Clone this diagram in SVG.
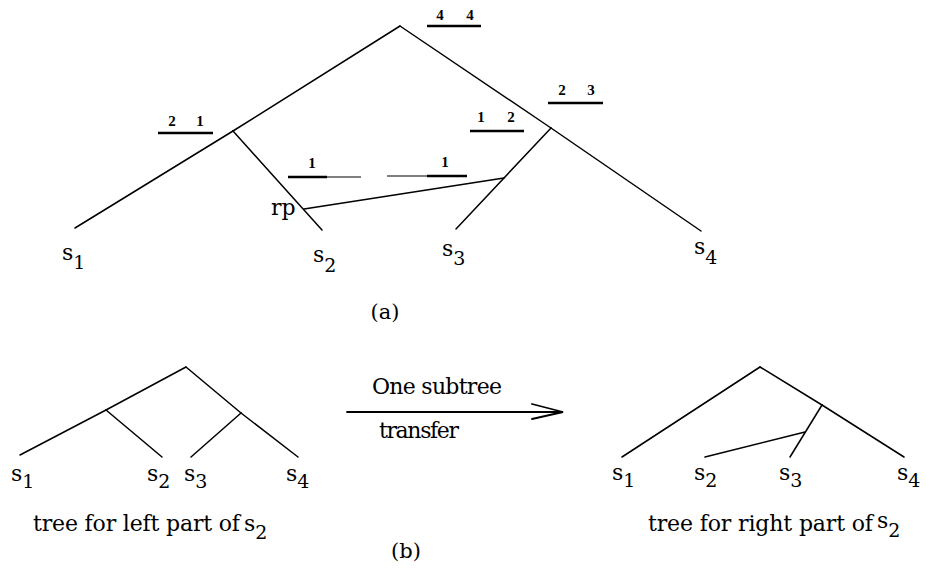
<svg xmlns="http://www.w3.org/2000/svg" width="929" height="571" viewBox="0 0 929 571">
<style>
.e{stroke:#000;stroke-width:1.5;fill:none;stroke-linecap:round}
.u{stroke:#000;stroke-width:2.6}
.ut{stroke:#000;stroke-width:1.2}
.n{font-family:"Liberation Serif",serif;font-weight:bold;font-size:15px;text-anchor:middle;fill:#000}
.t{font-family:"DejaVu Serif","Liberation Serif",serif;font-size:22px;fill:#000}
.sub{font-size:19px}
</style>
<rect width="929" height="571" fill="#fff"/>
<g id="connectors">
<line class="e" x1="400" y1="26" x2="233" y2="131"/>
<line class="e" x1="233" y1="131" x2="75" y2="228"/>
<line class="e" x1="233" y1="131" x2="322" y2="230"/>
<line class="e" x1="400" y1="26" x2="551" y2="128"/>
<line class="e" x1="551" y1="128" x2="701" y2="231"/>
<line class="e" x1="551" y1="128" x2="456" y2="229"/>
<line class="e" x1="304" y1="209" x2="504" y2="178"/>
<line class="e" x1="186" y1="367" x2="106" y2="410"/>
<line class="e" x1="106" y1="410" x2="20" y2="455"/>
<line class="e" x1="106" y1="410" x2="162" y2="457"/>
<line class="e" x1="186" y1="367" x2="241" y2="413"/>
<line class="e" x1="241" y1="413" x2="298" y2="457"/>
<line class="e" x1="241" y1="413" x2="191" y2="457"/>
<line class="e" x1="760" y1="367" x2="622" y2="457"/>
<line class="e" x1="760" y1="367" x2="822" y2="405"/>
<line class="e" x1="822" y1="405" x2="904" y2="457"/>
<line class="e" x1="822" y1="405" x2="790" y2="457"/>
<line class="e" x1="805" y1="432" x2="705" y2="457"/>
<line class="e" x1="347" y1="412" x2="562" y2="412" style="stroke-width:1.8"/>
<polyline class="e" points="532,404 563,412 532,419" style="stroke-width:1.8"/>
</g>
<g id="label-root">
<text class="n" x="440" y="20">4</text><text class="n" x="470" y="20">4</text>
<line class="u" x1="427" y1="26" x2="481" y2="26"/>
</g>
<g id="label-left">
<text class="n" x="172" y="126">2</text><text class="n" x="200" y="126">1</text>
<line class="u" x1="158" y1="133" x2="213" y2="133"/>
</g>
<g id="label-right">
<text class="n" x="562" y="95">2</text><text class="n" x="591" y="95">3</text>
<line class="u" x1="548" y1="103" x2="603" y2="103"/>
</g>
<g id="label-right-inner">
<text class="n" x="481" y="122">1</text><text class="n" x="511" y="122">2</text>
<line class="u" x1="470" y1="131" x2="524" y2="131"/>
</g>
<g id="label-rp-left">
<text class="n" x="312" y="168">1</text>
<line class="u" x1="288" y1="177" x2="327" y2="177"/>
<line class="ut" x1="327" y1="177" x2="361" y2="177"/>
</g>
<g id="label-rp-right">
<text class="n" x="445" y="167">1</text>
<line class="ut" x1="387" y1="176" x2="427" y2="176"/>
<line class="u" x1="427" y1="176" x2="467" y2="176"/>
</g>
<g id="rp"><text class="t" x="271" y="215">rp</text></g>
<g id="a-s1"><text class="t" x="62" y="260">s<tspan class="sub" dy="9">1</tspan></text></g>
<g id="a-s2"><text class="t" x="313" y="262">s<tspan class="sub" dy="10">2</tspan></text></g>
<g id="a-s3"><text class="t" x="442" y="256">s<tspan class="sub" dy="9">3</tspan></text></g>
<g id="a-s4"><text class="t" x="694" y="254">s<tspan class="sub" dy="10">4</tspan></text></g>
<g id="caption-a"><text class="t" x="385" y="319" text-anchor="middle" style="font-size:21px">(a)</text></g>
<g id="bl-s1"><text class="t" x="11" y="481">s<tspan class="sub" dy="7">1</tspan></text></g>
<g id="bl-s2"><text class="t" x="147" y="481">s<tspan class="sub" dy="7">2</tspan></text></g>
<g id="bl-s3"><text class="t" x="184" y="481">s<tspan class="sub" dy="7">3</tspan></text></g>
<g id="bl-s4"><text class="t" x="286" y="481">s<tspan class="sub" dy="7">4</tspan></text></g>
<g id="br-s1"><text class="t" x="612" y="480">s<tspan class="sub" dy="7">1</tspan></text></g>
<g id="br-s2"><text class="t" x="694" y="480">s<tspan class="sub" dy="7">2</tspan></text></g>
<g id="br-s3"><text class="t" x="779" y="480">s<tspan class="sub" dy="7">3</tspan></text></g>
<g id="br-s4"><text class="t" x="897" y="480">s<tspan class="sub" dy="7">4</tspan></text></g>
<g id="arrow-label">
<text class="t" x="372" y="394" textLength="130">One subtree</text>
<text class="t" x="379" y="438" textLength="80">transfer</text>
</g>
<g id="caption-left"><text class="t" x="33" y="531"><tspan textLength="207">tree for left part of</tspan><tspan x="244">s</tspan><tspan class="sub" dy="8">2</tspan></text></g>
<g id="caption-right"><text class="t" x="648" y="531"><tspan textLength="225">tree for right part of</tspan><tspan x="877" dy="-3">s</tspan><tspan class="sub" dy="9">2</tspan></text></g>
<g id="caption-b"><text class="t" x="406" y="558" text-anchor="middle" style="font-size:21px">(b)</text></g>
</svg>
